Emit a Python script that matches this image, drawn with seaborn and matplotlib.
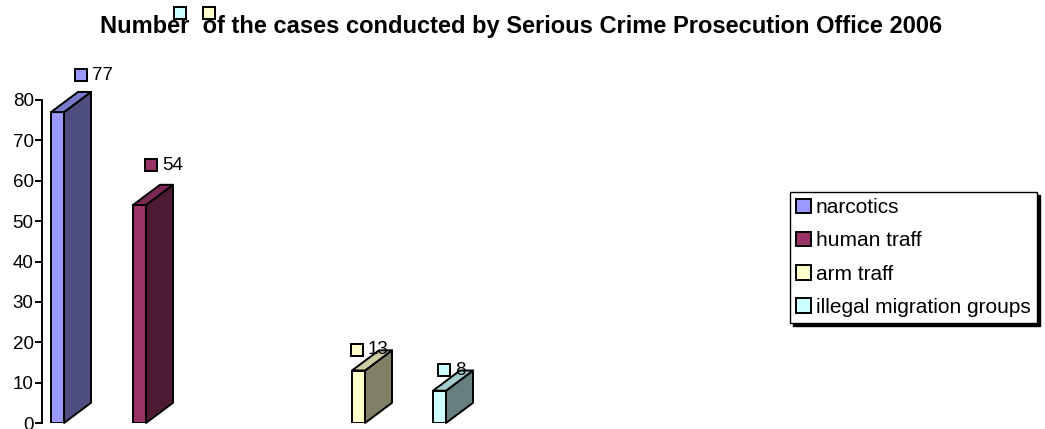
import matplotlib
matplotlib.use("Agg")
import matplotlib.pyplot as plt
from matplotlib.patches import Polygon, Patch
from matplotlib.lines import Line2D
import seaborn as sns
import pandas as pd
import numpy as np

# datos del grafico
categorias = ["narcotics", "human traff", "arm traff", "illegal migration groups"]
casos = [77, 54, 13, 8]

# colores tipo Excel (cara frontal, lateral, superior)
frente = ["#9999FF", "#993366", "#FFFFCC", "#CCFFFF"]
lateral = ["#4D4D80", "#4D1A33", "#808066", "#668080"]
arriba = ["#7A7ACC", "#7A2952", "#CCCCA3", "#A3CCCC"]

# posicion de cada barra en el eje x (unidades ~ pixeles)
posiciones = [15.5, 97.5, 316.5, 397.5]
ancho_barra = 13
prof_x, prof_y = 27, 5
# ajuste de las etiquetas de datos
etiqueta_dx = [23, 11, -2, 4]
etiqueta_dy = [9.1, 9.9, 5.2, 5.1]

df = pd.DataFrame({"pos": posiciones, "casos": casos, "cat": categorias})

sns.set_style("white")
plt.rcParams["font.family"] = ["Liberation Sans", "DejaVu Sans"]
plt.rcParams["text.color"] = "black"

fig = plt.figure(figsize=(10.45, 4.29), dpi=100)
ax = fig.add_axes([42 / 1045, 6 / 429, 720 / 1045, 323 / 429])

sep = np.diff(sorted(posiciones)).min()
sns.barplot(data=df, x="pos", y="casos", hue="cat", hue_order=categorias,
            palette=dict(zip(categorias, frente)), native_scale=True,
            dodge=False, width=ancho_barra / sep, edgecolor="black",
            linewidth=1.4, legend=False, ax=ax, saturation=1)

barras = sorted(ax.patches, key=lambda p: p.get_x())
for i, p in enumerate(barras):
    p.set_zorder(3)
    x0, x1, h = p.get_x(), p.get_x() + p.get_width(), p.get_height()
    lado = Polygon([(x1, 0), (x1 + prof_x, prof_y), (x1 + prof_x, h + prof_y), (x1, h)],
                   closed=True, facecolor=lateral[i], edgecolor="black",
                   linewidth=1.4, zorder=3, clip_on=False, joinstyle="round")
    tapa = Polygon([(x0, h), (x0 + prof_x, h + prof_y), (x1 + prof_x, h + prof_y), (x1, h)],
                   closed=True, facecolor=arriba[i], edgecolor="black",
                   linewidth=1.4, zorder=3, clip_on=False, joinstyle="round")
    ax.add_patch(lado)
    ax.add_patch(tapa)
    # etiqueta de datos con su cuadrito
    lx = x0 + etiqueta_dx[i] + 6.5
    ly = casos[i] + etiqueta_dy[i]
    ax.plot([lx], [ly], marker="s", markersize=9, markerfacecolor=frente[i],
            markeredgecolor="black", markeredgewidth=1.4, clip_on=False, zorder=4)
    ax.text(lx + 11.5, ly, str(casos[i]), fontsize=13.5, va="center", ha="left",
            zorder=5, clip_on=False, color="black")

ax.set_xlim(0, 720)
ax.set_ylim(0, 80)
ax.set_yticks(range(0, 81, 10))
ax.set_xticks([])
ax.set_xlabel("")
ax.set_ylabel("")
for s in ["top", "right", "bottom"]:
    ax.spines[s].set_visible(False)
ax.spines["left"].set_color("black")
ax.spines["left"].set_linewidth(1.4)
ax.tick_params(axis="y", direction="out", length=5, width=1.4, color="black",
               labelsize=13.5, pad=1, left=True, labelcolor="black")
ax.patch.set_alpha(0)

# cuadritos sueltos sobre el titulo (como en el original)
for cx, col in [(179.5, "#CCFFFF"), (209, "#FFFFCC")]:
    fig.add_artist(Line2D([cx / 1045], [1 - 13 / 429], marker="s", markersize=8.5,
                          markerfacecolor=col, markeredgecolor="black",
                          markeredgewidth=1.4, transform=fig.transFigure))

fig.text(521 / 1045, 1 - 33 / 429,
         "Number  of the cases conducted by Serious Crime Prosecution Office 2006",
         ha="center", va="baseline", fontsize=17, fontweight="bold", color="black")

manijas = [Patch(facecolor=c, edgecolor="black", linewidth=1.4) for c in frente]
leg = fig.legend(manijas, categorias, loc="upper left",
                 bbox_to_anchor=(790 / 1045, 1 - 192 / 429), fontsize=15,
                 frameon=True, fancybox=False, shadow={"color": "black", "alpha": 1},
                 edgecolor="black", handlelength=0.7, handleheight=0.7,
                 handletextpad=0.25, labelspacing=0.68, borderpad=0.3,
                 borderaxespad=0, labelcolor="black")
leg.get_frame().set_linewidth(1.0)

fig.savefig("out.png", dpi=100)
